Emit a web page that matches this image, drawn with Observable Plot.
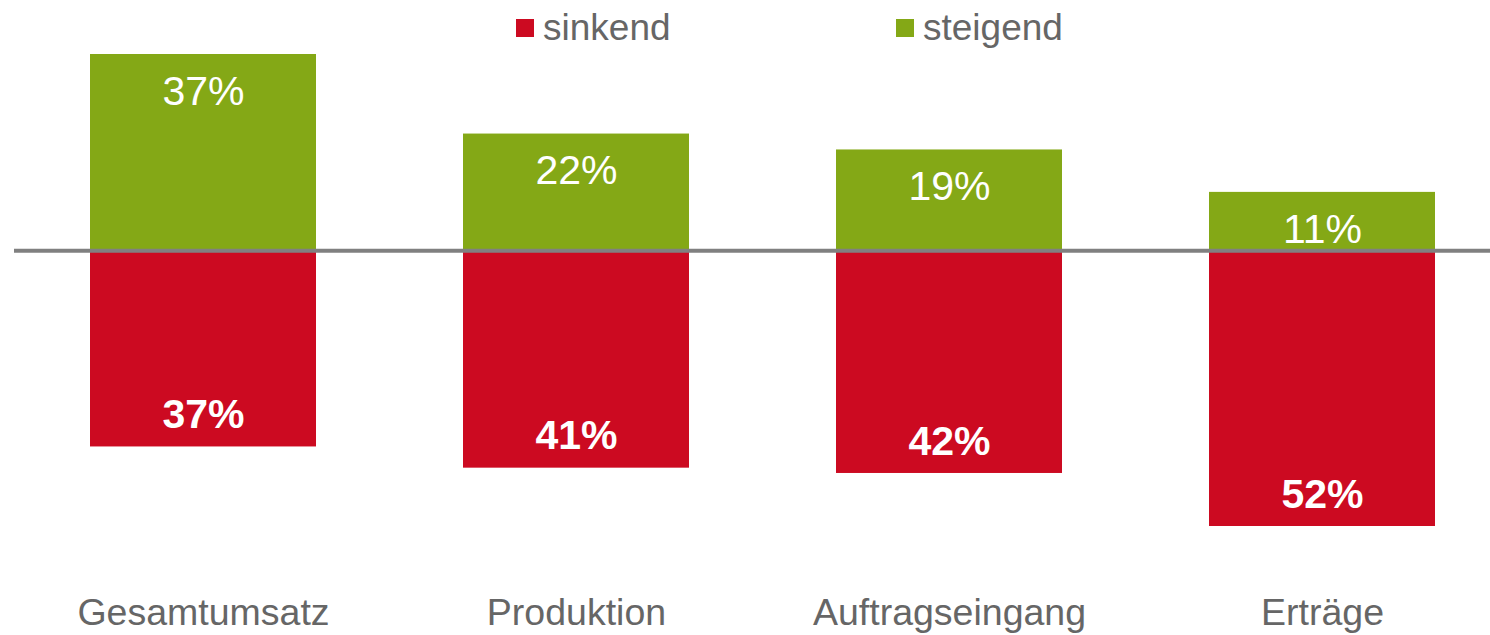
<!DOCTYPE html>
<html>
<head>
<meta charset="utf-8">
<script src="https://cdn.jsdelivr.net/npm/d3@7"></script>
<script src="https://cdn.jsdelivr.net/npm/@observablehq/plot@0.6"></script>
<style>
  html, body { margin: 0; padding: 0; background: #fff; }
  body { width: 1490px; height: 635px; position: relative; overflow: hidden; font-family: "Liberation Sans", Arial, sans-serif; }
  #legend { position: relative; height: 50px; width: 1490px; }
  .item { position: absolute; top: 3px; height: 50px; display: flex; align-items: center; font-size: 37px; color: #666666; }
  .sw { width: 18px; height: 18px; margin-right: 9px; }
</style>
</head>
<body>
<div id="legend"></div>
<div id="chart"></div>
<script>
const categories = ["Gesamtumsatz", "Produktion", "Auftragseingang", "Erträge"];
const sinkend = [37, 41, 42, 52];
const steigend = [37, 22, 19, 11];
const seriesNames = ["sinkend", "steigend"];
const colors = ["#cc0a21", "#84a816"];

const down = categories.map((c, i) => ({cat: c, value: -sinkend[i], label: sinkend[i] + "%"}));
const up = categories.map((c, i) => ({cat: c, value: steigend[i], label: steigend[i] + "%"}));

// legend
const legend = document.getElementById("legend");
const legendX = [516, 896];
seriesNames.forEach((name, i) => {
  const it = document.createElement("div");
  it.className = "item";
  it.style.left = legendX[i] + "px";
  it.innerHTML = `<span class="sw" style="background:${colors[i]}"></span><span>${name}</span>`;
  legend.appendChild(it);
});

const chart = Plot.plot({
  width: 1490,
  height: 585,
  marginLeft: 14,
  marginRight: 0,
  marginTop: 0,
  marginBottom: 50,
  style: {fontFamily: '"Liberation Sans", Arial, sans-serif', background: "white", overflow: "visible"},
  x: {domain: categories, range: [89, 1435], paddingInner: 0.395, paddingOuter: 0, label: null},
  y: {domain: [-52, 37], range: [476, 4], axis: null},
  marks: [
    Plot.barY(up, {x: "cat", y1: 0, y2: "value", fill: colors[1]}),
    Plot.barY(down, {x: "cat", y1: 0, y2: "value", fill: colors[0]}),
    Plot.ruleY([0], {stroke: "#808080", strokeWidth: 4}),
    Plot.text(up, {x: "cat", y: "value", text: "label", dy: 37, fill: "white", fontSize: 41}),
    Plot.text(down, {x: "cat", y: "value", text: "label", dy: -32, fill: "white", fontSize: 41, fontWeight: "bold"}),
    Plot.axisX({anchor: "bottom", tickSize: 0, tickPadding: 13, fontSize: 37.5, color: "#666666", label: null})
  ]
});
document.getElementById("chart").appendChild(chart);
</script>
</body>
</html>
